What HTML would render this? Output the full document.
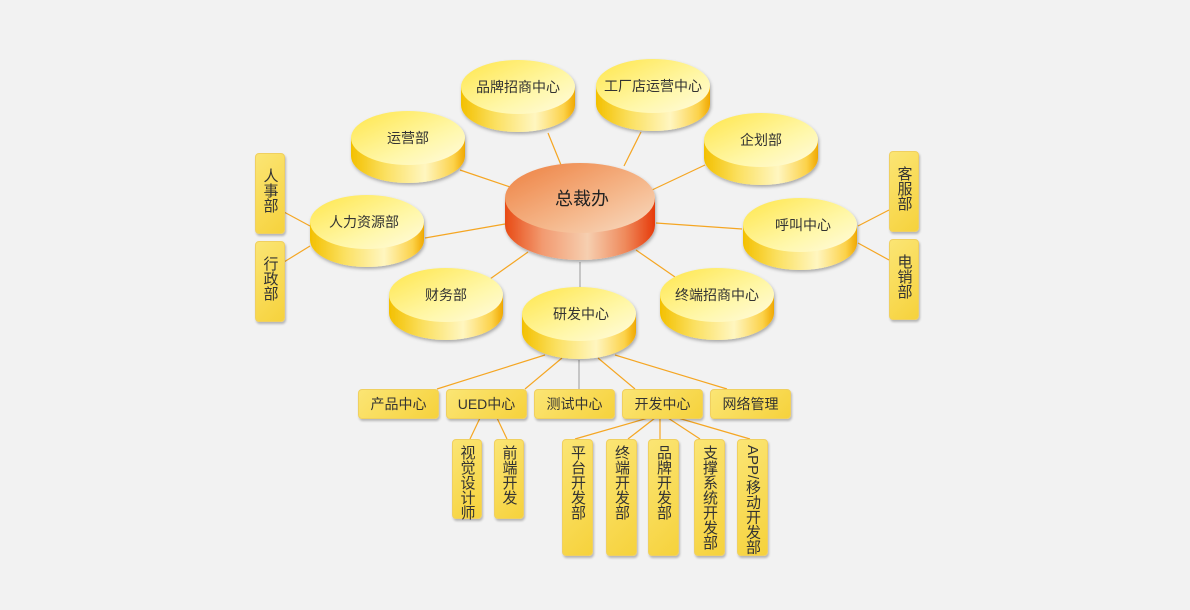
<!DOCTYPE html>
<html><head><meta charset="utf-8"><style>
body{margin:0;width:1190px;height:610px;background:#f2f2f2;overflow:hidden;position:relative;font-family:"Liberation Sans","Noto Sans CJK SC",sans-serif;}
svg{position:absolute;left:0;top:0}
.b{position:absolute;box-sizing:border-box;border-radius:4px;background:linear-gradient(135deg,#fbe574,#f6d23c);border:1px solid #f0d060;box-shadow:1px 2px 2px rgba(0,0,0,0.25);color:#333;font-size:14px;display:flex;align-items:center;justify-content:center;white-space:nowrap}
.v{writing-mode:vertical-rl;text-orientation:upright;justify-content:flex-start;padding-top:5px;font-size:15px;line-height:15px}
.v2{writing-mode:vertical-rl;justify-content:flex-start;padding-top:5px;font-size:15px;line-height:15px}
</style></head><body>
<svg width="1190" height="610">
<defs>
<linearGradient id="ys" x1="0" x2="1"><stop offset="0" stop-color="#f3c000"/><stop offset="0.3" stop-color="#fbe060"/><stop offset="0.65" stop-color="#fff6c0"/><stop offset="0.9" stop-color="#fcd24a"/><stop offset="1" stop-color="#f0a800"/></linearGradient>
<linearGradient id="yt" x1="0" y1="0" x2="1" y2="1"><stop offset="0" stop-color="#ffe64a"/><stop offset="0.6" stop-color="#fff7a8"/><stop offset="1" stop-color="#fffbe0"/></linearGradient>
<linearGradient id="rs" x1="0" x2="1"><stop offset="0" stop-color="#e84a14"/><stop offset="0.25" stop-color="#f29a70"/><stop offset="0.55" stop-color="#f6cfb0"/><stop offset="0.8" stop-color="#ef8a5c"/><stop offset="1" stop-color="#e63a0a"/></linearGradient>
<linearGradient id="rt" x1="0" y1="0" x2="1" y2="1"><stop offset="0" stop-color="#ee8040"/><stop offset="0.6" stop-color="#f5b88c"/><stop offset="1" stop-color="#f8dcc4"/></linearGradient>
<filter id="sh" x="-20%" y="-20%" width="140%" height="150%"><feDropShadow dx="1" dy="2" stdDeviation="1.5" flood-opacity="0.3"/></filter>
</defs>
<g stroke="#f5a623" stroke-width="1.2" fill="none">
<line x1="548" y1="133" x2="561" y2="165"/><line x1="641" y1="132" x2="624" y2="166"/>
<line x1="460" y1="170" x2="510" y2="187"/><line x1="705" y1="165" x2="652" y2="190"/>
<line x1="425" y1="238" x2="505" y2="224"/><line x1="742" y1="229" x2="656" y2="223"/>
<line x1="490" y1="279" x2="528" y2="252"/><line x1="675" y1="277" x2="636" y2="250"/>
<line x1="284" y1="212" x2="310" y2="226"/><line x1="284" y1="262" x2="310" y2="246"/>
<line x1="889" y1="210" x2="858" y2="226"/><line x1="889" y1="260" x2="858" y2="243"/>
<line x1="545" y1="355" x2="437" y2="389"/><line x1="562" y1="358" x2="525" y2="389"/>
<line x1="598" y1="358" x2="635" y2="389"/><line x1="615" y1="355" x2="727" y2="389"/>
<line x1="648" y1="418" x2="575" y2="439"/><line x1="655" y1="418" x2="628" y2="439"/>
<line x1="660" y1="418" x2="660" y2="439"/><line x1="668" y1="418" x2="700" y2="439"/>
<line x1="678" y1="418" x2="750" y2="439"/>
<line x1="480" y1="418" x2="470" y2="439"/><line x1="497" y1="418" x2="507" y2="439"/>
</g>
<g stroke="#999" stroke-width="1"><line x1="580" y1="262" x2="580" y2="290"/><line x1="579" y1="360" x2="579" y2="389"/></g>
<g font-size="14" fill="#333" text-anchor="middle">
<g filter="url(#sh)">
<path d="M461 87 v18 a57 27 0 0 0 114 0 v-18 z" fill="url(#ys)"/><ellipse cx="518" cy="87" rx="57" ry="27" fill="url(#yt)"/>
<path d="M596 86 v18 a57 27 0 0 0 114 0 v-18 z" fill="url(#ys)"/><ellipse cx="653" cy="86" rx="57" ry="27" fill="url(#yt)"/>
<path d="M351 138 v18 a57 27 0 0 0 114 0 v-18 z" fill="url(#ys)"/><ellipse cx="408" cy="138" rx="57" ry="27" fill="url(#yt)"/>
<path d="M704 140 v18 a57 27 0 0 0 114 0 v-18 z" fill="url(#ys)"/><ellipse cx="761" cy="140" rx="57" ry="27" fill="url(#yt)"/>
<path d="M310 222 v18 a57 27 0 0 0 114 0 v-18 z" fill="url(#ys)"/><ellipse cx="367" cy="222" rx="57" ry="27" fill="url(#yt)"/>
<path d="M743 225 v18 a57 27 0 0 0 114 0 v-18 z" fill="url(#ys)"/><ellipse cx="800" cy="225" rx="57" ry="27" fill="url(#yt)"/>
<path d="M389 295 v18 a57 27 0 0 0 114 0 v-18 z" fill="url(#ys)"/><ellipse cx="446" cy="295" rx="57" ry="27" fill="url(#yt)"/>
<path d="M660 295 v18 a57 27 0 0 0 114 0 v-18 z" fill="url(#ys)"/><ellipse cx="717" cy="295" rx="57" ry="27" fill="url(#yt)"/>
<path d="M522 314 v18 a57 27 0 0 0 114 0 v-18 z" fill="url(#ys)"/><ellipse cx="579" cy="314" rx="57" ry="27" fill="url(#yt)"/>
<path d="M505 198 v27 a75 35 0 0 0 150 0 v-27 z" fill="url(#rs)"/><ellipse cx="580" cy="198" rx="75" ry="35" fill="url(#rt)"/>
</g>
<text x="518" y="92">品牌招商中心</text><text x="653" y="91">工厂店运营中心</text>
<text x="408" y="143">运营部</text><text x="761" y="145">企划部</text>
<text x="364" y="227">人力资源部</text><text x="803" y="230">呼叫中心</text>
<text x="446" y="300">财务部</text><text x="717" y="300">终端招商中心</text>
<text x="581" y="319">研发中心</text>
<text x="582" y="205" font-size="18" fill="#222">总裁办</text>
</g>
</svg>
<div class="b v" style="left:255px;top:153px;width:30px;height:81px;padding-top:14px">人事部</div>
<div class="b v" style="left:255px;top:241px;width:30px;height:81px;padding-top:14px">行政部</div>
<div class="b v" style="left:889px;top:151px;width:30px;height:81px;padding-top:14px">客服部</div>
<div class="b v" style="left:889px;top:239px;width:30px;height:81px;padding-top:14px">电销部</div>
<div class="b" style="left:358px;top:389px;width:81px;height:30px">产品中心</div>
<div class="b" style="left:446px;top:389px;width:81px;height:30px">UED中心</div>
<div class="b" style="left:534px;top:389px;width:81px;height:30px">测试中心</div>
<div class="b" style="left:622px;top:389px;width:81px;height:30px">开发中心</div>
<div class="b" style="left:710px;top:389px;width:81px;height:30px">网络管理</div>
<div class="b v" style="left:452px;top:439px;width:30px;height:80px">视觉设计师</div>
<div class="b v" style="left:494px;top:439px;width:30px;height:80px">前端开发</div>
<div class="b v" style="left:562px;top:439px;width:31px;height:117px">平台开发部</div>
<div class="b v" style="left:606px;top:439px;width:31px;height:117px">终端开发部</div>
<div class="b v" style="left:648px;top:439px;width:31px;height:117px">品牌开发部</div>
<div class="b v" style="left:694px;top:439px;width:31px;height:117px">支撑系统开发部</div>
<div class="b v2" style="left:737px;top:439px;width:31px;height:117px">APP/移动开发部</div>
</body></html>
